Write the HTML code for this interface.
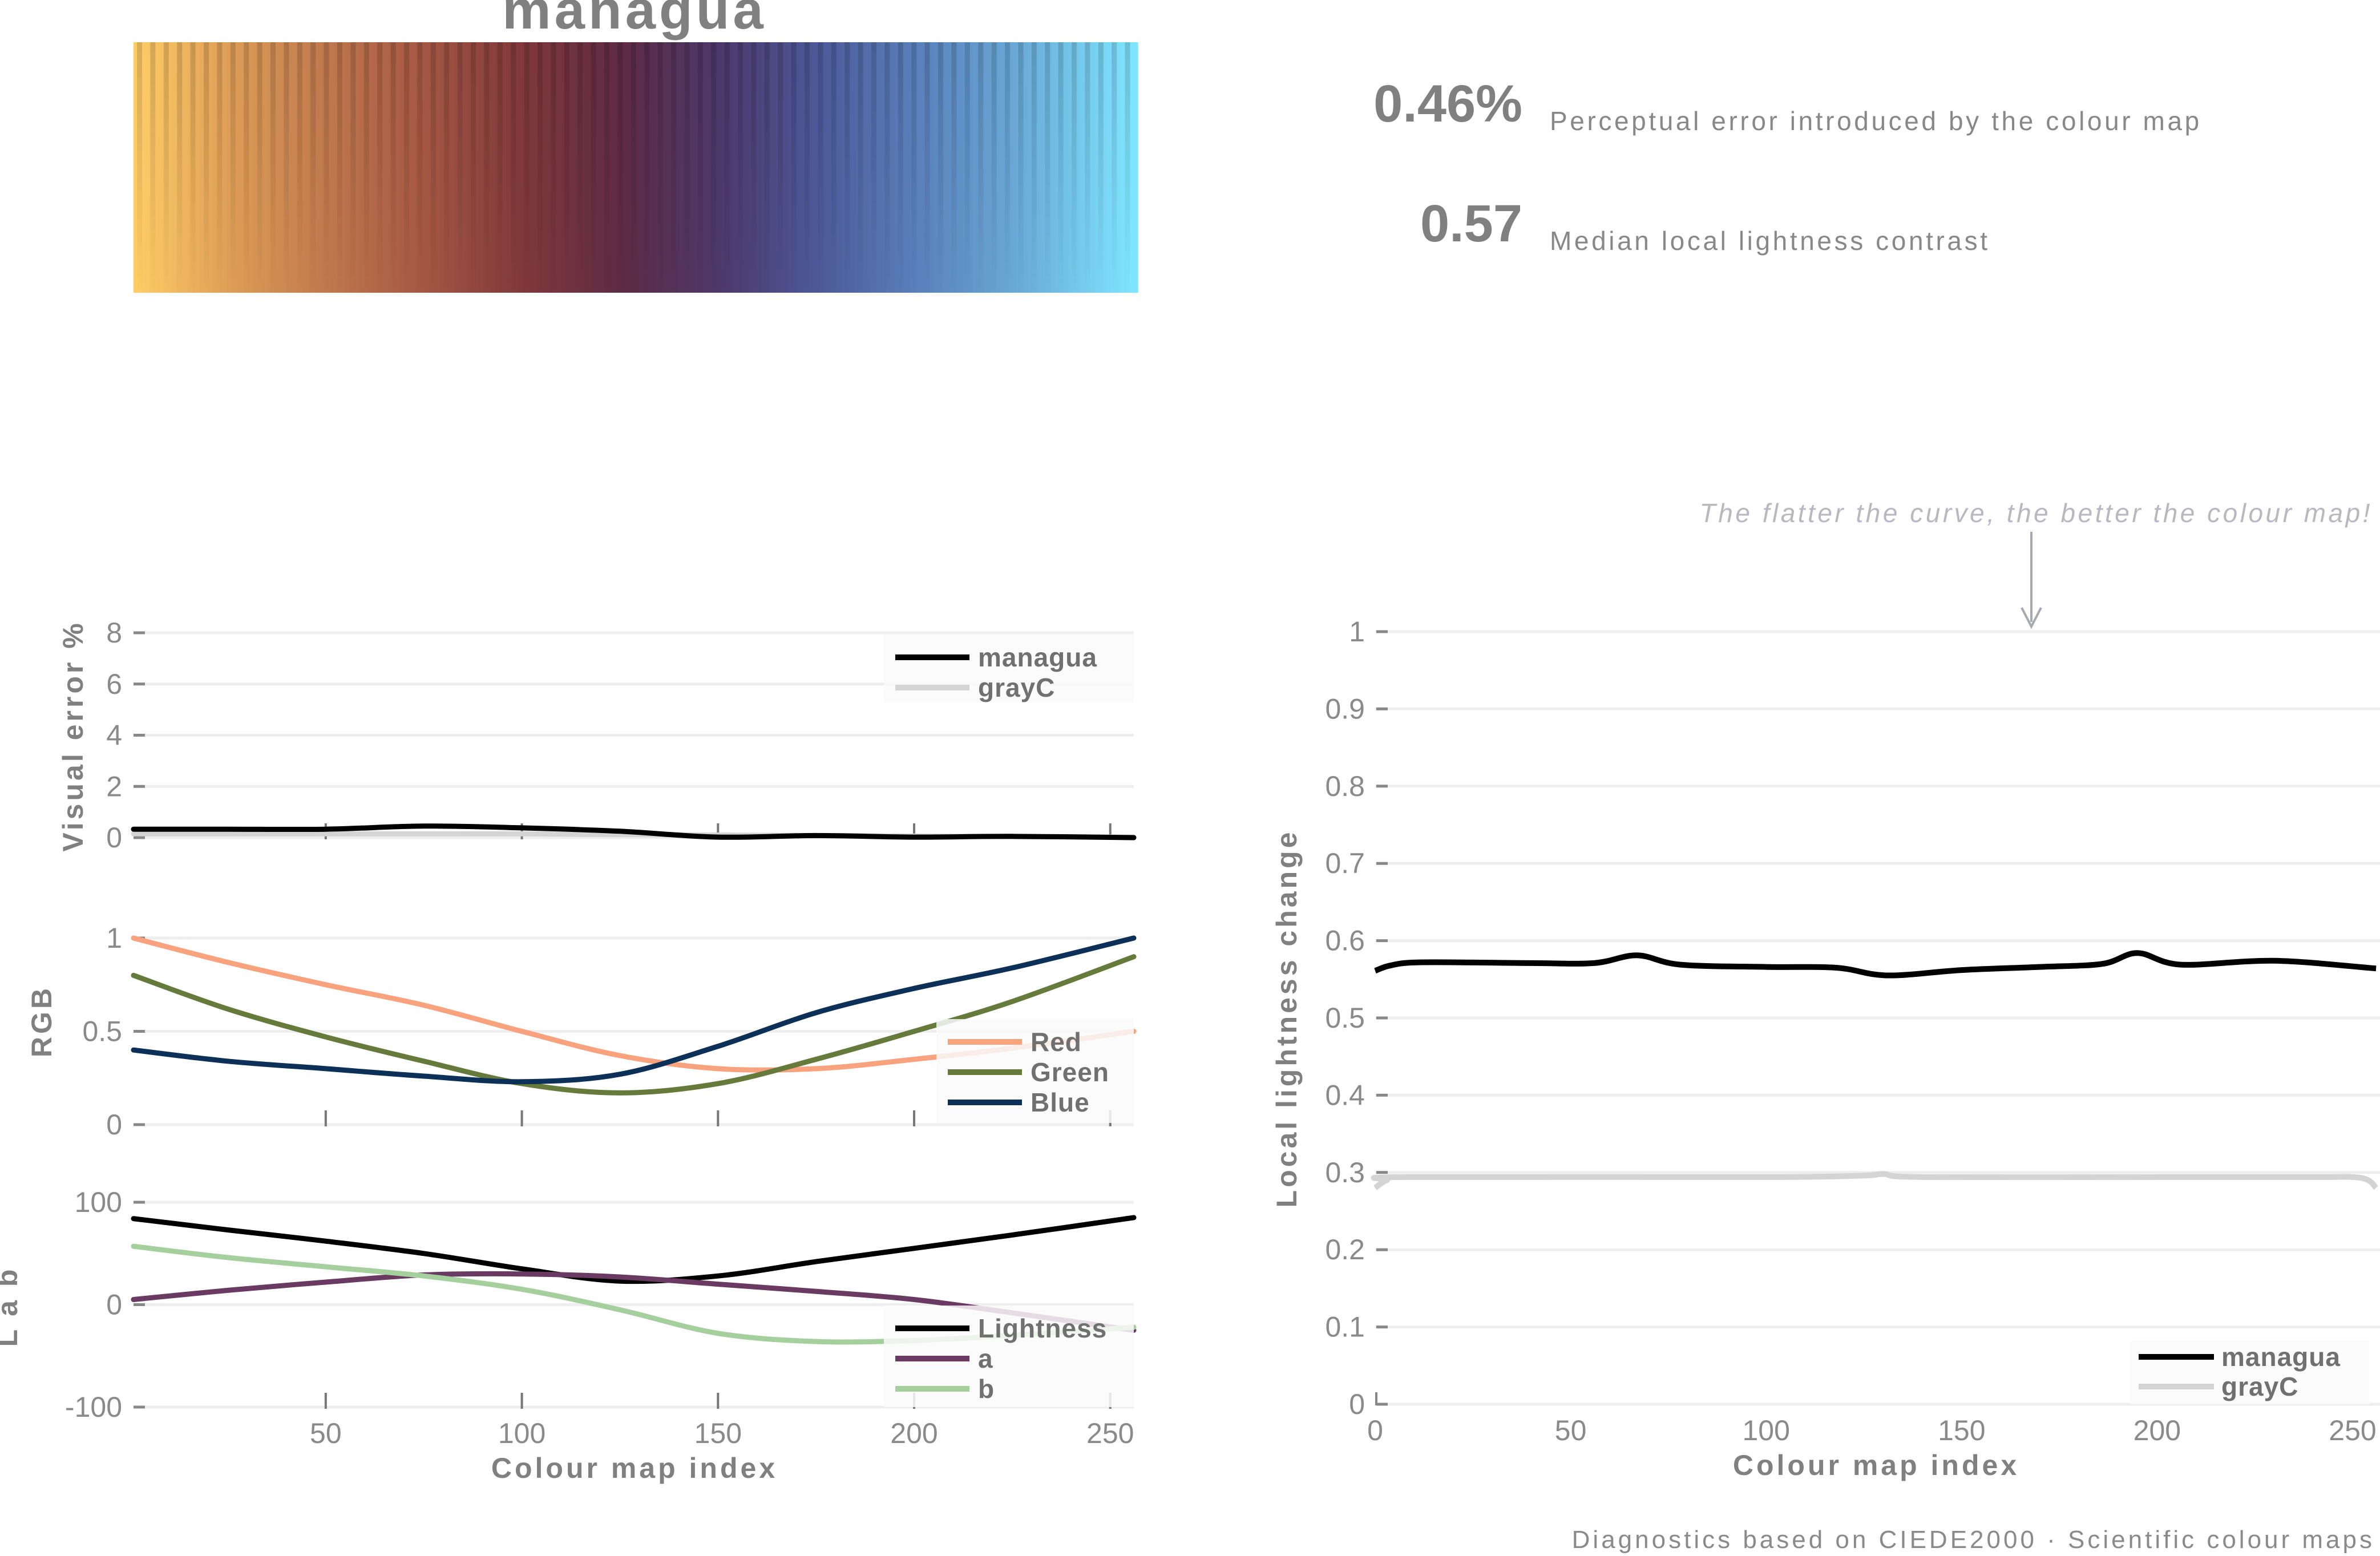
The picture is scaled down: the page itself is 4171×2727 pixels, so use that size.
<!DOCTYPE html>
<html><head><meta charset="utf-8"><style>
html,body{margin:0;padding:0;background:#fff;}
svg{display:block;font-family:"Liberation Sans",sans-serif;}
.tk{fill:#8a8a8a;font-size:50px;}
.tt{fill:#808080;font-size:50px;font-weight:bold;letter-spacing:5px;}
.lg{fill:#707070;font-size:46px;font-weight:bold;letter-spacing:1px;}
</style></head><body>
<svg id="s" width="4171" height="2727" viewBox="0 0 4171 2727">
<defs>
<linearGradient id="fade" x1="0" y1="0" x2="0" y2="1"><stop offset="0" stop-color="#fff" stop-opacity="1"/><stop offset="1" stop-color="#fff" stop-opacity="0"/></linearGradient>
<mask id="stripeMask"><rect x="234" y="74" width="1753" height="439" fill="url(#fade)"/></mask>
</defs>
<text x="1112" y="50" text-anchor="middle" fill="#808080" font-size="96" font-weight="bold" letter-spacing="6">managua</text>
<g id="cbar"></g>
<g id="stripes" mask="url(#stripeMask)"></g>
<text x="2668" y="213" text-anchor="end" fill="#808080" font-size="92" font-weight="bold">0.46%</text>
<text x="2716" y="228" fill="#888" font-size="46" letter-spacing="4.6">Perceptual error introduced by the colour map</text>
<text x="2668" y="423" text-anchor="end" fill="#808080" font-size="92" font-weight="bold">0.57</text>
<text x="2716" y="438" fill="#888" font-size="46" letter-spacing="4.6">Median local lightness contrast</text>
<text x="4158" y="915" text-anchor="end" fill="#b8b8c0" font-size="46" font-style="italic" letter-spacing="4.5">The flatter the curve, the better the colour map!</text>
<line x1="3560" y1="932" x2="3560" y2="1090" stroke="#a8a8b0" stroke-width="4"/>
<path d="M3543 1065 L3560 1098 L3577 1065" fill="none" stroke="#a8a8b0" stroke-width="4"/>
<g id="plots"></g>
<text x="4162" y="2713" text-anchor="end" fill="#8a8a8a" font-size="44" letter-spacing="5">Diagnostics based on CIEDE2000 · Scientific colour maps</text>
</svg>
<script>
// ---- data ----
const rgbIdx=[1,25,50,75,100,125,150,175,200,225,256];
const redVals=[1.0,0.87,0.75,0.64,0.5,0.37,0.3,0.3,0.35,0.41,0.5];
const greenVals=[0.8,0.62,0.47,0.34,0.22,0.17,0.22,0.35,0.5,0.66,0.9];
const blueVals=[0.4,0.34,0.3,0.26,0.23,0.27,0.42,0.6,0.73,0.84,1.0];
const labIdx=[1,25,50,75,100,125,150,175,200,225,256];
const lightVals=[84,73,62,50,35,23,28,42,55,68,85];
const aVals=[5,14,22,29,30,27,20,13,5,-8,-25];
const bVals=[57,46,37,28,15,-5,-28,-36,-35,-30,-22];
const errIdx=[1,25,50,75,100,125,150,175,200,225,256];
const errManagua=[0.33,0.33,0.33,0.45,0.38,0.25,0.02,0.08,0.02,0.05,0.0];
const errGray=[0.15,0.15,0.15,0.15,0.15,0.12,0.1,0.08,0.06,0.04,0.02];
const llcIdx=[0,4,12,40,56,67,78,100,118,131,150,170,186,195,206,230,256];
const llcManagua=[0.561,0.568,0.572,0.571,0.571,0.581,0.569,0.566,0.565,0.555,0.562,0.566,0.57,0.584,0.569,0.574,0.564];
const llcGrayIdx=[0,3,8,100,125,130,140,200,240,250,254,256];
const llcGray=[0.28,0.29,0.294,0.294,0.296,0.298,0.294,0.294,0.294,0.294,0.29,0.28];
const xTicks=[50,100,150,200,250];
const rTicksX=[0,50,100,150,200,250];
const rTicksY=[0,0.1,0.2,0.3,0.4,0.5,0.6,0.7,0.8,0.9,1];
// ---- helpers ----
const NS="http://www.w3.org/2000/svg";
const root=document.getElementById('plots');
function mk(tag,at,parent){const e=document.createElementNS(NS,tag);for(const k in at)e.setAttribute(k,at[k]);(parent||root).appendChild(e);return e;}
function smooth(pts){let d="M"+pts[0][0]+" "+pts[0][1];for(let i=0;i<pts.length-1;i++){const p0=pts[Math.max(0,i-1)],p1=pts[i],p2=pts[i+1],p3=pts[Math.min(pts.length-1,i+2)];const c1=[p1[0]+(p2[0]-p0[0])/6,p1[1]+(p2[1]-p0[1])/6],c2=[p2[0]-(p3[0]-p1[0])/6,p2[1]-(p3[1]-p1[1])/6];d+=" C"+c1[0].toFixed(1)+" "+c1[1].toFixed(1)+" "+c2[0].toFixed(1)+" "+c2[1].toFixed(1)+" "+p2[0].toFixed(1)+" "+p2[1].toFixed(1);}return d;}
function interp(xs,ys,x){for(let i=0;i<xs.length-1;i++){if(x<=xs[i+1]){const t=(x-xs[i])/(xs[i+1]-xs[i]);return ys[i]+t*(ys[i+1]-ys[i]);}}return ys[ys.length-1];}
const lx=i=>234+(i-1)*(1753/255);
// ---- colorbar ----
const cb=document.getElementById('cbar'),st=document.getElementById('stripes');
for(let i=1;i<=256;i++){const r=Math.round(255*interp(rgbIdx,redVals,i)),g=Math.round(255*interp(rgbIdx,greenVals,i)),b=Math.round(255*interp(rgbIdx,blueVals,i));
const c=mk('rect',{x:lx(i).toFixed(1),y:74,width:(1753/255+0.8).toFixed(2),height:439,fill:`rgb(${r},${g},${b})`},cb);

}
for(let k=0;k<75;k++){const x=240+k*23.4;const s=mk('rect',{x:x.toFixed(1),y:74,width:9,height:439,fill:'#000',opacity:0.15},st);

}
// ---- left panels ----
function panel(name,y0,y1,v0,v1,ticks,tickLbl,series,legend,legBox,ytitle,ytx,yty){
  const g=mk('g',{});
  
  
  const y=v=>y0+(v-v0)/(v1-v0)*(y1-y0);
  ticks.forEach((t,k)=>{mk('line',{x1:234,x2:1987,y1:y(t),y2:y(t),stroke:'#eee',"stroke-width":5},g);mk('line',{x1:234,x2:254,y1:y(t),y2:y(t),stroke:'#888',"stroke-width":5},g);
    const tl=mk('text',{x:214,y:y(t)+17,"text-anchor":"end",class:"tk"},g);tl.textContent=tickLbl[k];
    
    });
  xTicks.forEach(t=>mk('line',{x1:lx(t),x2:lx(t),y1:y(v0)-25,y2:y(v0)+3,stroke:'#777',"stroke-width":4},g));
  series.forEach(s=>{const p=mk('path',{d:smooth(s.x.map((xx,i)=>[lx(xx),y(s.v[i])])),fill:'none',stroke:s.c,"stroke-width":s.w||9,"stroke-linecap":"round"},g);
    
    });
  const lb=mk('rect',{x:legBox[0],y:legBox[1],width:legBox[2],height:legBox[3],fill:'#fafafa',opacity:0.85},g);
  
  
  legend.forEach((e,k)=>{const ly=legBox[1]+40+k*53;mk('line',{x1:legBox[0]+20,x2:legBox[0]+150,y1:ly,y2:ly,stroke:e.c,"stroke-width":10},g);
    const t=mk('text',{x:legBox[0]+165,y:ly+16,class:"lg"},g);t.textContent=e.t;
    
    });
  const yt=mk('text',{x:ytx,y:yty,class:"tt","text-anchor":"middle",transform:`rotate(-90 ${ytx} ${yty})`},g);yt.textContent=ytitle;
  
  
}
panel('visual-error-panel',1468,1109,0,8,[0,2,4,6,8],['0','2','4','6','8'],
 [{x:errIdx,v:errGray,c:'#d4d4d4',n:'line-grayC-error'},{x:errIdx,v:errManagua,c:'#000',n:'line-managua-error'}],
 [{t:'managua',c:'#000'},{t:'grayC',c:'#d4d4d4'}],[1549,1112,438,118],'Visual error %',145,1290);
panel('rgb-panel',1971,1644,0,1,[0,0.5,1],['0','0.5','1'],
 [{x:rgbIdx,v:redVals,c:'#f8a27e',n:'line-red'},{x:rgbIdx,v:greenVals,c:'#667a3c',n:'line-green'},{x:rgbIdx,v:blueVals,c:'#0c3058',n:'line-blue'}],
 [{t:'Red',c:'#f8a27e'},{t:'Green',c:'#667a3c'},{t:'Blue',c:'#0c3058'}],[1641,1786,346,182],'RGB',90,1790);
panel('lab-panel',2466,2107,-100,100,[-100,0,100],['-100','0','100'],
 [{x:labIdx,v:lightVals,c:'#000',n:'line-lightness'},{x:labIdx,v:aVals,c:'#6a3a62',n:'line-a'},{x:labIdx,v:bVals,c:'#a5d09e',n:'line-b'}],
 [{t:'Lightness',c:'#000'},{t:'a',c:'#6a3a62'},{t:'b',c:'#a5d09e'}],[1549,2288,438,178],'L a b',30,2290);
xTicks.forEach(t=>{const e=mk('text',{x:lx(t),y:2529,"text-anchor":"middle",class:"tk"});e.textContent=t;
 
 });
const xt1=mk('text',{x:1112,y:2590,"text-anchor":"middle",class:"tt"});xt1.textContent='Colour map index';


// ---- right panel ----
const rx=i=>2410+i*(1713/250), ry=v=>2461-v*1354;
rTicksY.forEach(t=>{mk('line',{x1:2410,x2:4171,y1:ry(t),y2:ry(t),stroke:'#eee',"stroke-width":5});mk('line',{x1:2412,x2:2432,y1:ry(t),y2:ry(t),stroke:'#888',"stroke-width":5});
 const e=mk('text',{x:2392,y:ry(t)+17,"text-anchor":"end",class:"tk"});e.textContent=t;
 
 });
mk('line',{x1:2412,x2:2412,y1:2440,y2:2463,stroke:'#888',"stroke-width":4});
rTicksX.forEach(t=>{const e=mk('text',{x:rx(t),y:2524,"text-anchor":"middle",class:"tk"});e.textContent=t;
 
 });
const pg=mk('path',{d:smooth(llcGrayIdx.map((x,i)=>[rx(x),ry(llcGray[i])])),fill:'none',stroke:'#d4d4d4',"stroke-width":10});


const pm=mk('path',{d:smooth(llcIdx.map((x,i)=>[rx(x),ry(llcManagua[i])])),fill:'none',stroke:'#000',"stroke-width":10});


const rl=mk('rect',{x:3733,y:2350,width:420,height:111,fill:'#fafafa',opacity:0.85});


[['managua','#000'],['grayC','#d4d4d4']].forEach((e,k)=>{const ly=2378+k*52;mk('line',{x1:3748,x2:3880,y1:ly,y2:ly,stroke:e[1],"stroke-width":10});
 const t=mk('text',{x:3893,y:ly+16,class:"lg"});t.textContent=e[0];
 
 });
const xt2=mk('text',{x:3288,y:2585,"text-anchor":"middle",class:"tt"});xt2.textContent='Colour map index';


const yt2=mk('text',{x:2272,y:1785,"text-anchor":"middle",class:"tt",transform:"rotate(-90 2272 1785)"});yt2.textContent='Local lightness change';


</script>
</body></html>
